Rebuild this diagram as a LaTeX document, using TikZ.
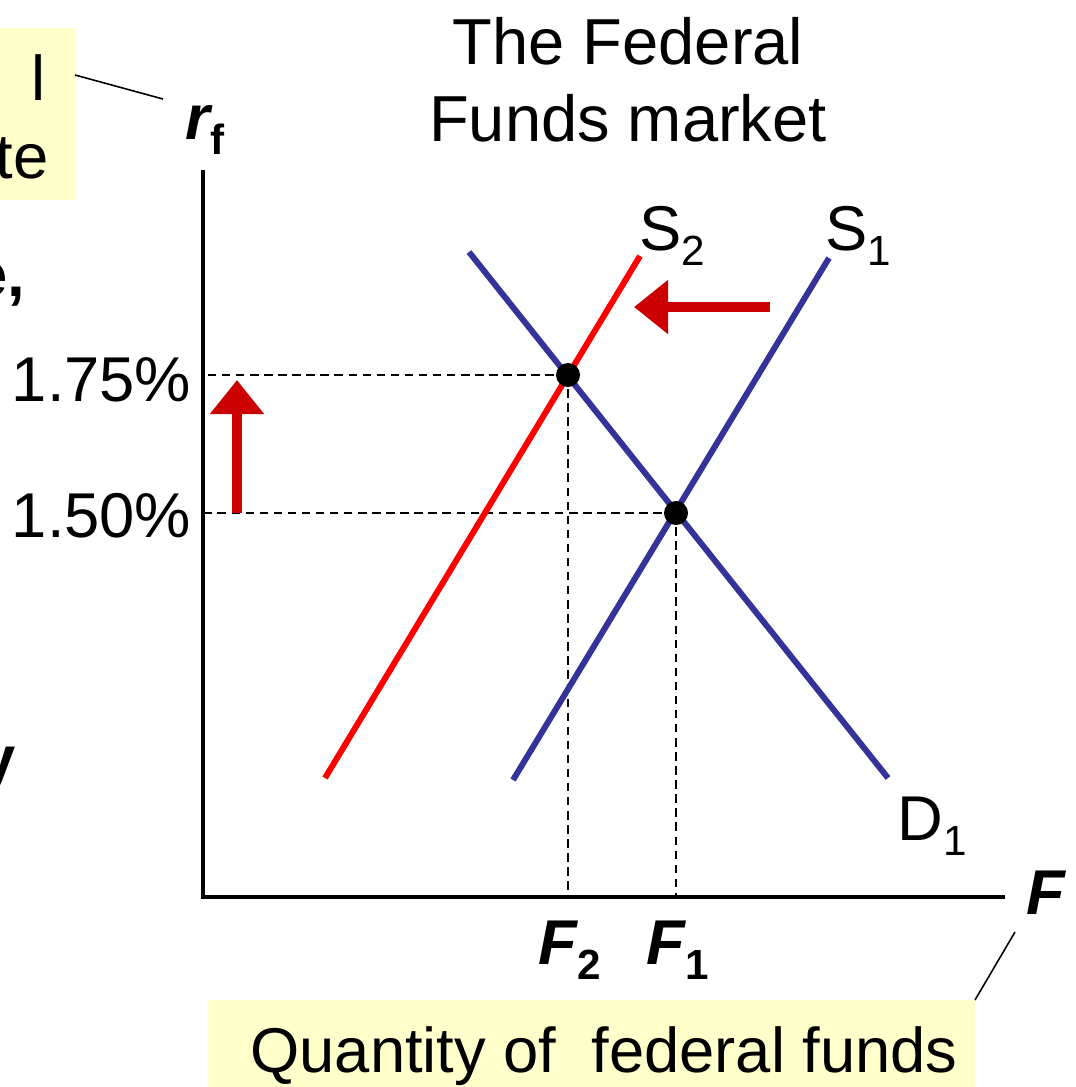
\documentclass[tikz,border=0pt]{standalone}
\usepackage{fontspec}
\setmainfont{Liberation Sans}
\usetikzlibrary{arrows.meta}
\definecolor{noteyellow}{RGB}{255,255,204}
\definecolor{curveblue}{RGB}{51,51,153}
\definecolor{shiftred}{RGB}{204,0,0}
\tikzset{
  curve/.style={line width=1.7pt},
  guide/.style={line width=0.45pt,dash pattern=on 2.4pt off 1.6pt},
  shiftarrow/.style={shiftred,line width=2.9pt,-{Triangle[width=0.52cm,length=0.34cm]}},
  eqdot/.style={circle,fill=black,inner sep=0pt,minimum size=0.24cm}
}
\newcommand{\sub}[1]{\raisebox{-0.45ex}{\fontsize{12}{14}\selectfont #1}}
\begin{document}
\begin{tikzpicture}[x=0.01cm,y=-0.01cm,font=\fontsize{18}{21.6}\selectfont]
   \useasboundingbox (0,0) rectangle (1076,1087);
   % callout boxes
   \fill[noteyellow] (0,28) rectangle (75,200);
   \fill[noteyellow] (208,1000) rectangle (975,1087);
   \node[anchor=base east,inner sep=0pt] (rateA) at (46,100) {l};
   \node[anchor=base east,inner sep=0pt] (rateB) at (49,178) {te};
   \node[anchor=base east,inner sep=0pt] (sideA) at (26,296) {\bfseries e,};
   \node[anchor=base east,inner sep=0pt] (sideB) at (16,780) {\bfseries y};
   \node[anchor=base,inner sep=0pt] (qty) at (604,1072) {Quantity of\ \ federal funds};
   % title
   \node[align=center,inner sep=0pt,font=\fontsize{18.5}{22}\selectfont] (title) at (628,80) {The Federal\\Funds market};
   % axes
   \coordinate (O) at (203,897);
   \coordinate (top) at (203,170);
   \coordinate (right) at (1005,897);
   \draw[line width=0.9pt] (top) -- (O) -- (right);
   \node[inner sep=0pt] (rf) at (205,130) {{\bfseries\itshape r}\sub{\bfseries f}};
   \node[inner sep=0pt] (Fax) at (1046,893) {\bfseries\itshape F};
   \coordinate (rfTip) at (163,99);
   \coordinate (rateTip) at (75,75);
   \coordinate (FTip) at (1015,932);
   \coordinate (qtyTip) at (975,1000);
   \draw[line width=0.45pt] (rateTip) -- (rfTip);
   \draw[line width=0.45pt] (qtyTip) -- (FTip);
   % equilibria
   \coordinate (E2) at (568,375);
   \coordinate (E1) at (676,513);
   \draw[guide] (E2) -- (E2 -| O);
   \draw[guide] (E1) -- (E1 -| O);
   \draw[guide] (E2) -- (E2 |- O);
   \draw[guide] (E1) -- (E1 |- O);
   \node[anchor=east,inner sep=0pt] (r2) at (192,380) {1.75\%};
   \node[anchor=east,inner sep=0pt] (r1) at (192,516) {1.50\%};
   \node[inner sep=0pt] (F2) at (570,950) {{\bfseries\itshape F}\sub{\bfseries 2}};
   \node[inner sep=0pt] (F1) at (678,950) {{\bfseries\itshape F}\sub{\bfseries 1}};
   % curves
   \draw[curve,red] (325,778) -- (640,256);
   \draw[curve,curveblue] (513,780) -- (829,258);
   \draw[curve,curveblue] (469,252) -- (888,778);
   \node[inner sep=0pt] (S2) at (672,236) {S\sub{2}};
   \node[inner sep=0pt] (S1) at (858,236) {S\sub{1}};
   \node[inner sep=0pt] (D1) at (932,826) {D\sub{1}};
   \node[eqdot] (dotA) at (E2) {};
   \node[eqdot] (dotB) at (E1) {};
   % shifts
   \draw[shiftarrow] (770,307) -- (634,307);
   \draw[shiftarrow] (237,513) -- (237,380);
\end{tikzpicture}
\end{document}
